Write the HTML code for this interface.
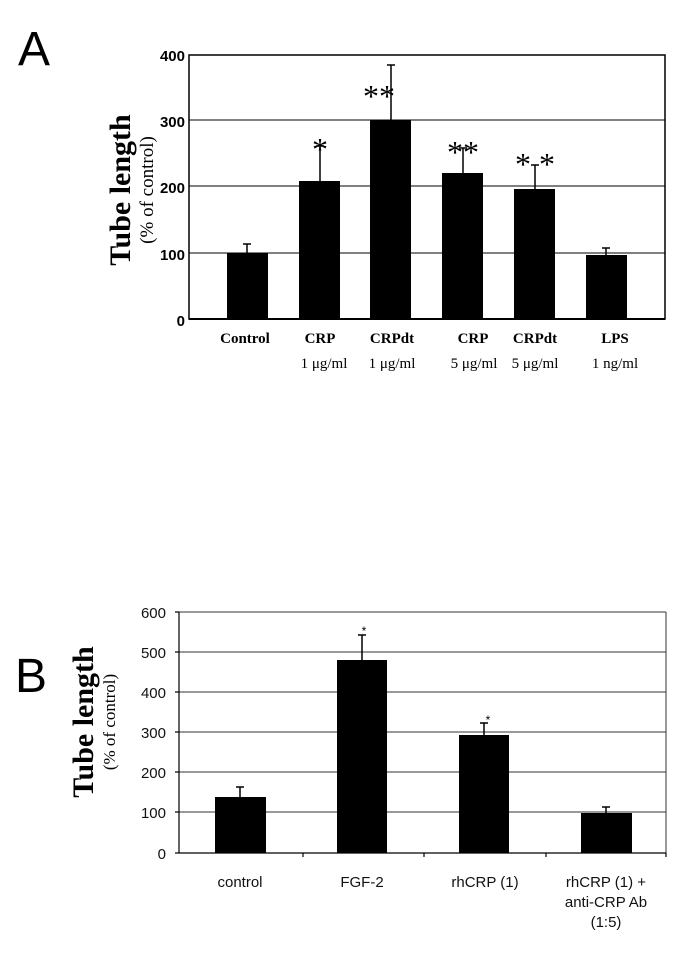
<!DOCTYPE html>
<html><head><style>html,body{margin:0;padding:0;background:#fff}</style></head>
<body>
<svg width="685" height="952" xmlns="http://www.w3.org/2000/svg">
<rect width="685" height="952" fill="#fff"/>
<!-- Panel A -->
<text x="18" y="65" font-family="Liberation Sans, sans-serif" font-size="48">A</text>
<g stroke="#000" stroke-width="1">
<line x1="189" y1="253" x2="665" y2="253"/>
<line x1="189" y1="186" x2="665" y2="186"/>
<line x1="189" y1="120" x2="665" y2="120"/>
</g>
<rect x="189" y="55" width="476" height="264" fill="none" stroke="#000" stroke-width="1.5"/>
<line x1="189" y1="319" x2="665" y2="319" stroke="#000" stroke-width="2"/>
<g font-family="Liberation Sans, sans-serif" font-weight="bold" font-size="15" text-anchor="end">
<text x="185" y="61">400</text><text x="185" y="127">300</text><text x="185" y="193">200</text><text x="185" y="260">100</text><text x="185" y="326">0</text>
</g>
<g fill="#000">
<rect x="227" y="253" width="41" height="66"/>
<rect x="299" y="181" width="41" height="138"/>
<rect x="370" y="120" width="41" height="199"/>
<rect x="442" y="173" width="41" height="146"/>
<rect x="514" y="189" width="41" height="130"/>
<rect x="586" y="255" width="41" height="64"/>
</g>
<g stroke="#000" stroke-width="1.5">
<line x1="247" y1="253" x2="247" y2="244"/><line x1="243" y1="244" x2="251" y2="244"/>
<line x1="320" y1="181" x2="320" y2="146"/><line x1="316" y1="146" x2="324" y2="146"/>
<line x1="391" y1="120" x2="391" y2="65"/><line x1="387" y1="65" x2="395" y2="65"/>
<line x1="463" y1="173" x2="463" y2="148"/><line x1="459" y1="148" x2="467" y2="148"/>
<line x1="535" y1="189" x2="535" y2="165"/><line x1="531" y1="165" x2="539" y2="165"/>
<line x1="606" y1="255" x2="606" y2="248"/><line x1="602" y1="248" x2="610" y2="248"/>
</g>
<g font-family="Liberation Serif, serif" font-size="32" text-anchor="middle">
<text x="320" y="160">*</text>
<text x="379" y="107">**</text>
<text x="463" y="163">**</text>
<text x="535" y="175">* *</text>
</g>
<g font-family="Liberation Serif, serif" font-weight="bold" font-size="15" text-anchor="middle">
<text x="245" y="343">Control</text><text x="320" y="343">CRP</text><text x="392" y="343">CRPdt</text>
<text x="473" y="343">CRP</text><text x="535" y="343">CRPdt</text><text x="615" y="343">LPS</text>
</g>
<g font-family="Liberation Serif, serif" font-size="15" text-anchor="middle">
<text x="324" y="368">1 μg/ml</text><text x="392" y="368">1 μg/ml</text>
<text x="474" y="368">5 μg/ml</text><text x="535" y="368">5 μg/ml</text><text x="615" y="368">1 ng/ml</text>
</g>
<text transform="translate(130,190) rotate(-90)" font-family="Liberation Serif, serif" font-weight="bold" font-size="30" text-anchor="middle">Tube length</text>
<text transform="translate(153,190) rotate(-90)" font-family="Liberation Serif, serif" font-size="19" text-anchor="middle">(% of control)</text>

<!-- Panel B -->
<text x="15" y="692" font-family="Liberation Sans, sans-serif" font-size="48">B</text>
<g stroke="#333" stroke-width="1">
<line x1="179" y1="612" x2="666" y2="612"/>
<line x1="179" y1="652" x2="666" y2="652"/>
<line x1="179" y1="692" x2="666" y2="692"/>
<line x1="179" y1="732" x2="666" y2="732"/>
<line x1="179" y1="772" x2="666" y2="772"/>
<line x1="179" y1="812" x2="666" y2="812"/>
<line x1="666" y1="612" x2="666" y2="853"/>
</g>
<g stroke="#000" stroke-width="1.2">
<line x1="179" y1="612" x2="179" y2="853"/>
<line x1="179" y1="853" x2="666" y2="853"/>
<line x1="175" y1="612" x2="179" y2="612"/><line x1="175" y1="652" x2="179" y2="652"/><line x1="175" y1="692" x2="179" y2="692"/>
<line x1="175" y1="732" x2="179" y2="732"/><line x1="175" y1="772" x2="179" y2="772"/><line x1="175" y1="812" x2="179" y2="812"/><line x1="175" y1="853" x2="179" y2="853"/>
<line x1="303" y1="853" x2="303" y2="857"/><line x1="424" y1="853" x2="424" y2="857"/><line x1="546" y1="853" x2="546" y2="857"/><line x1="666" y1="853" x2="666" y2="857"/>
</g>
<g font-family="Liberation Sans, sans-serif" font-size="15" text-anchor="end" fill="#111">
<text x="166" y="618">600</text><text x="166" y="658">500</text><text x="166" y="698">400</text><text x="166" y="738">300</text>
<text x="166" y="778">200</text><text x="166" y="818">100</text><text x="166" y="859">0</text>
</g>
<g fill="#000">
<rect x="215" y="797" width="51" height="56"/>
<rect x="337" y="660" width="50" height="193"/>
<rect x="459" y="735" width="50" height="118"/>
<rect x="581" y="813" width="51" height="40"/>
</g>
<g stroke="#000" stroke-width="1.5">
<line x1="240" y1="797" x2="240" y2="787"/><line x1="236" y1="787" x2="244" y2="787"/>
<line x1="362" y1="660" x2="362" y2="635"/><line x1="358" y1="635" x2="366" y2="635"/>
<line x1="484" y1="735" x2="484" y2="723"/><line x1="480" y1="723" x2="488" y2="723"/>
<line x1="606" y1="813" x2="606" y2="807"/><line x1="602" y1="807" x2="610" y2="807"/>
</g>
<g font-family="Liberation Sans, sans-serif" font-size="12" text-anchor="middle">
<text x="364" y="635">*</text><text x="488" y="724">*</text>
</g>
<g font-family="Liberation Sans, sans-serif" font-size="15" text-anchor="middle" fill="#111">
<text x="240" y="887">control</text><text x="362" y="887">FGF-2</text><text x="485" y="887">rhCRP (1)</text>
<text x="606" y="887">rhCRP (1) +</text><text x="606" y="907">anti-CRP Ab</text><text x="606" y="927">(1:5)</text>
</g>
<text transform="translate(93,722) rotate(-90)" font-family="Liberation Serif, serif" font-weight="bold" font-size="30" text-anchor="middle">Tube length</text>
<text transform="translate(115,722) rotate(-90)" font-family="Liberation Serif, serif" font-size="17" text-anchor="middle">(% of control)</text>
</svg>
</body></html>
